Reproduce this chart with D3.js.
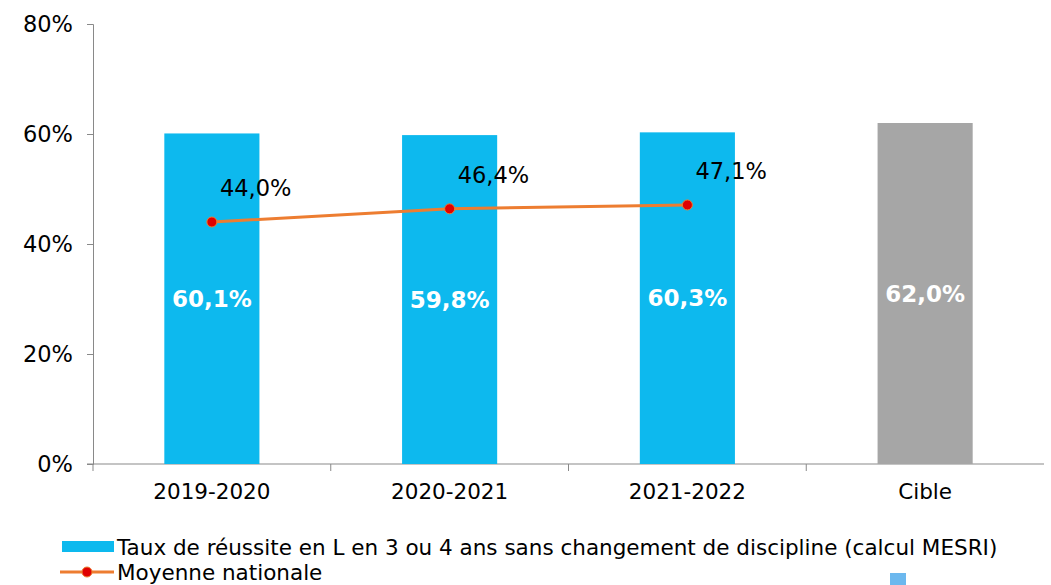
<!DOCTYPE html>
<html><head><meta charset="utf-8">
<script src="https://cdn.jsdelivr.net/npm/d3@7/dist/d3.min.js"></script>
<style>body{margin:0;background:#fff}svg{display:block}text{font-family:"DejaVu Sans",Verdana,sans-serif}</style>
</head><body><svg id="c" width="1051" height="585"></svg>
<script>
const categories = ["2019-2020","2020-2021","2021-2022","Cible"];
const barValues = [60.1, 59.8, 60.3, 62.0];
const barLabels = ["60,1%","59,8%","60,3%","62,0%"];
const lineCategories = ["2019-2020","2020-2021","2021-2022"];
const lineValues = [44.0, 46.4, 47.1];
const lineLabels = ["44,0%","46,4%","47,1%"];
const yTicks = [0,20,40,60,80];
const legendLabels = ["Taux de réussite en L en 3 ou 4 ans sans changement de discipline (calcul MESRI)","Moyenne nationale"];

const svg = d3.select("#c");
const mLeft=93, mTop=24, mRight=1044, mBottom=464;
const x = d3.scaleBand().domain(categories).range([mLeft,mRight]).paddingInner(0.6).paddingOuter(0.3);
const y = d3.scaleLinear().domain([0,80]).range([mBottom,mTop]);
const axisColor="#898989";

// y axis
const ya = svg.append("g").attr("transform",`translate(${mLeft},0)`)
  .call(d3.axisLeft(y).tickValues(yTicks).tickFormat(d=>d+"%").tickSize(6).tickPadding(14));
ya.select(".domain").attr("stroke",axisColor);
ya.selectAll(".tick line").attr("stroke",axisColor);
ya.selectAll("text").attr("font-size",22.5).attr("fill","#000").attr("font-family","DejaVu Sans");

// x axis
const step = x.step();
const xa = svg.append("g").attr("transform",`translate(0,${mBottom})`)
  .call(d3.axisBottom(x).tickSize(0).tickPadding(20));
xa.select(".domain").attr("stroke",axisColor).attr("d",`M${mLeft-6},0H${mRight}`);
xa.selectAll("text").attr("font-size",21.5).attr("fill","#000").attr("font-family","DejaVu Sans");
svg.append("g").selectAll("line").data(categories).join("line")
  .attr("x1",d=>x(d)+x.bandwidth()/2-step/2).attr("x2",d=>x(d)+x.bandwidth()/2-step/2)
  .attr("y1",mBottom).attr("y2",mBottom+7).attr("stroke",axisColor);

// bars
svg.append("g").selectAll("rect").data(categories).join("rect")
  .attr("x",d=>x(d)).attr("width",x.bandwidth())
  .attr("y",(d,i)=>y(barValues[i])).attr("height",(d,i)=>mBottom-y(barValues[i]))
  .attr("fill",(d,i)=>i===3?"#A6A6A6":"#0DB9EE");

svg.append("g").selectAll("text").data(categories).join("text")
  .attr("x",d=>x(d)+x.bandwidth()/2)
  .attr("y",(d,i)=>(y(barValues[i])+mBottom)/2+8)
  .attr("text-anchor","middle").attr("font-size",23).attr("font-weight","bold").attr("fill","#fff")
  .text((d,i)=>barLabels[i]);

// line
const cx = d=>x(d)+x.bandwidth()/2;
const pts = lineCategories.map((c,i)=>[cx(c), y(lineValues[i])]);
svg.append("path").attr("d",d3.line()(pts)).attr("fill","none").attr("stroke","#ED7D31").attr("stroke-width",3);
svg.append("g").selectAll("circle").data(pts).join("circle")
  .attr("cx",d=>d[0]).attr("cy",d=>d[1]).attr("r",5).attr("fill","#E00000").attr("stroke","#ED7D31").attr("stroke-width",1);
svg.append("g").selectAll("text").data(pts).join("text")
  .attr("x",d=>d[0]+8).attr("y",d=>d[1]-26)
  .attr("font-size",22.5).attr("fill","#000")
  .text((d,i)=>lineLabels[i]);

// legend
const lg = svg.append("g");
lg.append("rect").attr("x",62).attr("y",541).attr("width",52).attr("height",11).attr("fill","#0DB9EE");
lg.append("text").attr("x",117).attr("y",555).attr("font-size",21.5).attr("fill","#000").text(legendLabels[0]);
lg.append("line").attr("x1",60).attr("x2",114).attr("y1",572).attr("y2",572).attr("stroke","#ED7D31").attr("stroke-width",3);
lg.append("circle").attr("cx",87).attr("cy",572).attr("r",5).attr("fill","#E00000").attr("stroke","#ED7D31");
lg.append("text").attr("x",117).attr("y",580).attr("font-size",21.5).attr("fill","#000").text(legendLabels[1]);
lg.append("rect").attr("x",890).attr("y",573).attr("width",16).attr("height",12).attr("fill","#6CB8EE");
</script></body></html>
